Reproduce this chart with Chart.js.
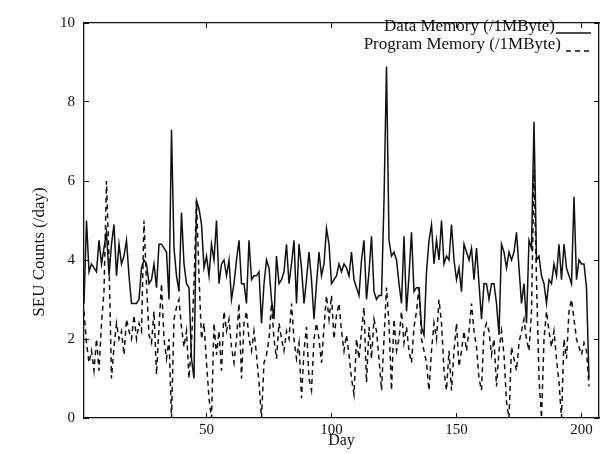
<!DOCTYPE html>
<html>
<head>
<meta charset="utf-8">
<script src="https://cdn.jsdelivr.net/npm/chart.js@4/dist/chart.umd.min.js"></script>
<style>
  html, body { margin: 0; padding: 0; background: #fff; }
  #wrap { width: 601px; height: 454px; }
</style>
</head>
<body>
<div id="wrap"><canvas id="seuChart" width="601" height="454"></canvas></div>
<script>
// SEU counts per day (day 1 .. 203)
const dataMemory = [
  2.9, 5.0, 3.7, 3.9, 3.8, 3.7, 4.5, 3.9, 4.3, 4.7,
  3.6, 4.4, 4.9, 3.6, 4.4, 3.9, 4.1, 4.5, 3.6, 2.9,
  2.9, 2.9, 3.0, 3.8, 4.0, 3.9, 3.4, 3.5, 3.9, 3.3,
  4.4, 4.4, 4.3, 4.2, 3.0, 7.3, 4.3, 3.6, 3.2, 5.2,
  3.9, 3.4, 3.3, 1.5, 1.0, 5.5, 5.3, 4.9, 3.8, 4.1,
  3.6, 4.4, 4.0, 5.0, 3.4, 3.9, 4.0, 3.6, 4.0, 3.0,
  3.4, 4.0, 4.5, 3.4, 3.4, 2.9, 4.5, 3.5, 3.6, 3.6,
  3.7, 2.4, 3.4, 4.0, 3.8, 3.0, 2.5, 4.1, 3.4, 3.5,
  3.7, 4.4, 3.4, 3.9, 4.5, 2.9, 4.4, 3.8, 2.9, 3.5,
  4.2, 3.5, 2.5, 3.4, 4.2, 3.6, 3.9, 4.8, 4.4, 3.4,
  3.5, 3.6, 3.9, 3.7, 3.9, 3.8, 3.6, 4.2, 3.5, 3.3,
  3.1, 4.0, 4.5, 3.0, 3.7, 4.6, 3.2, 3.0, 3.1, 3.1,
  5.5, 8.9, 4.5, 4.1, 4.2, 4.0, 3.4, 2.9, 4.6, 2.7,
  3.6, 4.7, 3.2, 3.3, 3.3, 2.3, 2.1, 3.7, 4.5, 4.9,
  3.9, 4.5, 4.0, 5.0, 3.9, 4.1, 4.0, 4.9, 4.0, 3.5,
  3.8, 3.2, 4.4, 4.2, 4.0, 4.3, 3.5, 4.3, 3.4, 2.5,
  3.4, 3.4, 3.0, 3.4, 3.4, 2.9, 2.1, 4.4, 4.2, 3.8,
  4.2, 4.0, 4.2, 4.7, 3.8, 2.9, 3.4, 2.4, 4.5, 4.3,
  7.5, 4.0, 4.1, 3.6, 3.4, 2.9, 3.5, 3.4, 3.9, 3.6,
  4.4, 3.5, 4.4, 3.8, 3.6, 3.4, 5.6, 3.5, 4.0, 3.9,
  3.9, 3.3, 1.0
];

const programMemory = [
  2.7, 1.9, 1.4, 1.7, 1.2, 2.0, 1.2, 2.4, 3.2, 6.0,
  4.0, 1.0, 1.8, 2.4, 2.0, 2.2, 1.6, 2.5, 2.2, 2.0,
  2.6, 2.0, 2.4, 2.2, 5.0, 3.4, 2.1, 1.9, 2.7, 1.1,
  2.3, 3.4, 2.0, 1.5, 2.0, 0.0, 2.5, 2.8, 3.0, 2.3,
  1.8, 2.2, 1.0, 1.9, 3.4, 5.5, 3.6, 2.0, 2.4, 1.4,
  0.5, 0.0, 2.4, 1.6, 2.2, 1.2, 2.7, 2.2, 2.5, 1.8,
  1.4, 2.0, 2.9, 1.0, 2.4, 2.7, 2.0, 1.7, 2.2, 1.6,
  0.9, 0.0, 1.4, 1.6, 2.0, 2.9, 2.0, 1.5, 2.4, 2.0,
  1.7, 2.2, 2.0, 2.9, 2.0, 1.5, 1.9, 0.5, 1.7, 2.3,
  1.0, 0.7, 2.0, 2.4, 2.0, 1.4, 2.3, 3.1, 2.5, 3.1,
  2.0, 2.6, 2.9, 2.2, 1.7, 2.1, 1.6, 1.0, 0.6, 2.0,
  1.5, 2.2, 2.8, 0.9, 2.3, 1.5, 2.5, 2.2, 1.5, 0.7,
  2.0, 3.3, 2.4, 0.7, 2.5, 1.7, 2.0, 2.7, 1.9, 2.3,
  1.7, 1.4, 2.3, 2.7, 3.3, 2.0, 1.7, 1.4, 0.7, 1.7,
  2.4, 2.0, 3.0, 2.4, 1.2, 0.7, 1.7, 0.7, 1.7, 2.4,
  1.3, 1.7, 2.2, 1.7, 2.2, 2.9, 2.2, 1.8, 1.0, 0.7,
  2.2, 2.4, 2.2, 1.6, 2.0, 0.8, 1.7, 2.2, 1.6, 0.4,
  0.0, 1.8, 1.5, 1.2, 1.9, 2.2, 2.5, 2.0, 1.7, 2.7,
  6.3, 3.5, 1.0, 0.0, 2.0, 2.7, 2.2, 1.8, 2.2, 1.5,
  0.9, 0.0, 2.0, 1.5, 2.7, 3.0, 2.5, 2.0, 1.8, 1.6,
  1.9, 1.7, 0.8
];

const firstDay = 1;
const days = dataMemory.map((_, i) => firstDay + i);

const seriesLabels = ['Data Memory (/1MByte)', 'Program Memory (/1MByte)'];
const xTicks = [50, 100, 150, 200];
const yTicks = [0, 2, 4, 6, 8, 10];
const xRange = [1, 207];
const yRange = [0, 10];
const xTitle = 'Day';
const yTitle = 'SEU Counts (/day)';

const serif = '"Liberation Serif", "Times New Roman", serif';
const ink = '#111';

function toPoints(values) {
    return values.map((v, i) => ({ x: days[i], y: v }));
}

function setTicks(list) {
    return scale => { scale.ticks = list.map(v => ({ value: v })); };
}

// y title and the text-then-line legend in the top right corner
const frameText = {
    id: 'frameText',
    afterDraw(chart) {
        const ctx = chart.ctx;
        ctx.save();
        ctx.fillStyle = ink;
        ctx.font = '17px ' + serif;
        ctx.translate(40, 252);
        ctx.rotate(-Math.PI / 2);
        ctx.textAlign = 'center';
        ctx.textBaseline = 'middle';
        ctx.fillText(yTitle, 0, 0);
        ctx.restore();

        const rows = [
            { textRight: 555, lineFrom: 556, lineTo: 591, y: 33 },
            { textRight: 561, lineFrom: 566, lineTo: 591, y: 51 }
        ];
        chart.data.datasets.forEach((ds, i) => {
            const r = rows[i];
            ctx.save();
            ctx.fillStyle = ink;
            ctx.font = '17px ' + serif;
            ctx.textAlign = 'right';
            ctx.textBaseline = 'alphabetic';
            ctx.fillText(ds.label, r.textRight, r.y - 2);
            ctx.strokeStyle = ds.borderColor;
            ctx.lineWidth = ds.borderWidth;
            ctx.setLineDash(ds.borderDash || []);
            ctx.beginPath();
            ctx.moveTo(r.lineFrom, r.y);
            ctx.lineTo(r.lineTo, r.y);
            ctx.stroke();
            ctx.restore();
        });
    }
};

const tickGrid = { drawOnChartArea: false, drawTicks: true, tickLength: -5, color: ink, lineWidth: 1 };
const frameBorder = { display: true, color: ink, width: 1.3 };

new Chart(document.getElementById('seuChart'), {
    type: 'line',
    data: {
        datasets: [
            {
                label: seriesLabels[0],
                data: toPoints(dataMemory),
                borderColor: ink,
                borderWidth: 1.5,
                pointRadius: 0,
                tension: 0,
                fill: false
            },
            {
                label: seriesLabels[1],
                data: toPoints(programMemory),
                borderColor: ink,
                borderWidth: 1.5,
                borderDash: [5, 4],
                pointRadius: 0,
                tension: 0,
                fill: false
            }
        ]
    },
    options: {
        responsive: false,
        animation: false,
        devicePixelRatio: 1,
        layout: { padding: 0 },
        plugins: {
            legend: { display: false },
            tooltip: { enabled: false }
        },
        scales: {
            x: {
                type: 'linear',
                position: 'bottom',
                min: xRange[0],
                max: xRange[1],
                afterBuildTicks: setTicks(xTicks),
                afterFit: s => { s.height = 36; },
                grid: tickGrid,
                border: frameBorder,
                ticks: { color: ink, padding: 8, maxRotation: 0, font: { family: serif, size: 15 } },
                title: { display: true, text: xTitle, color: ink, padding: { top: 0, bottom: 4 }, font: { family: serif, size: 16 } }
            },
            xTop: {
                type: 'linear',
                position: 'top',
                min: xRange[0],
                max: xRange[1],
                afterBuildTicks: setTicks(xTicks),
                afterFit: s => { s.height = 18; },
                grid: tickGrid,
                border: frameBorder,
                ticks: { display: false }
            },
            y: {
                type: 'linear',
                position: 'left',
                min: yRange[0],
                max: yRange[1],
                afterBuildTicks: setTicks(yTicks),
                afterFit: s => { s.width = 84; },
                grid: tickGrid,
                border: frameBorder,
                ticks: { color: ink, padding: 14, font: { family: serif, size: 15 } }
            },
            yRight: {
                type: 'linear',
                position: 'right',
                min: yRange[0],
                max: yRange[1],
                afterBuildTicks: setTicks(yTicks),
                afterFit: s => { s.width = 2; },
                grid: tickGrid,
                border: frameBorder,
                ticks: { display: false }
            }
        }
    },
    plugins: [frameText]
});
</script>
</body>
</html>
